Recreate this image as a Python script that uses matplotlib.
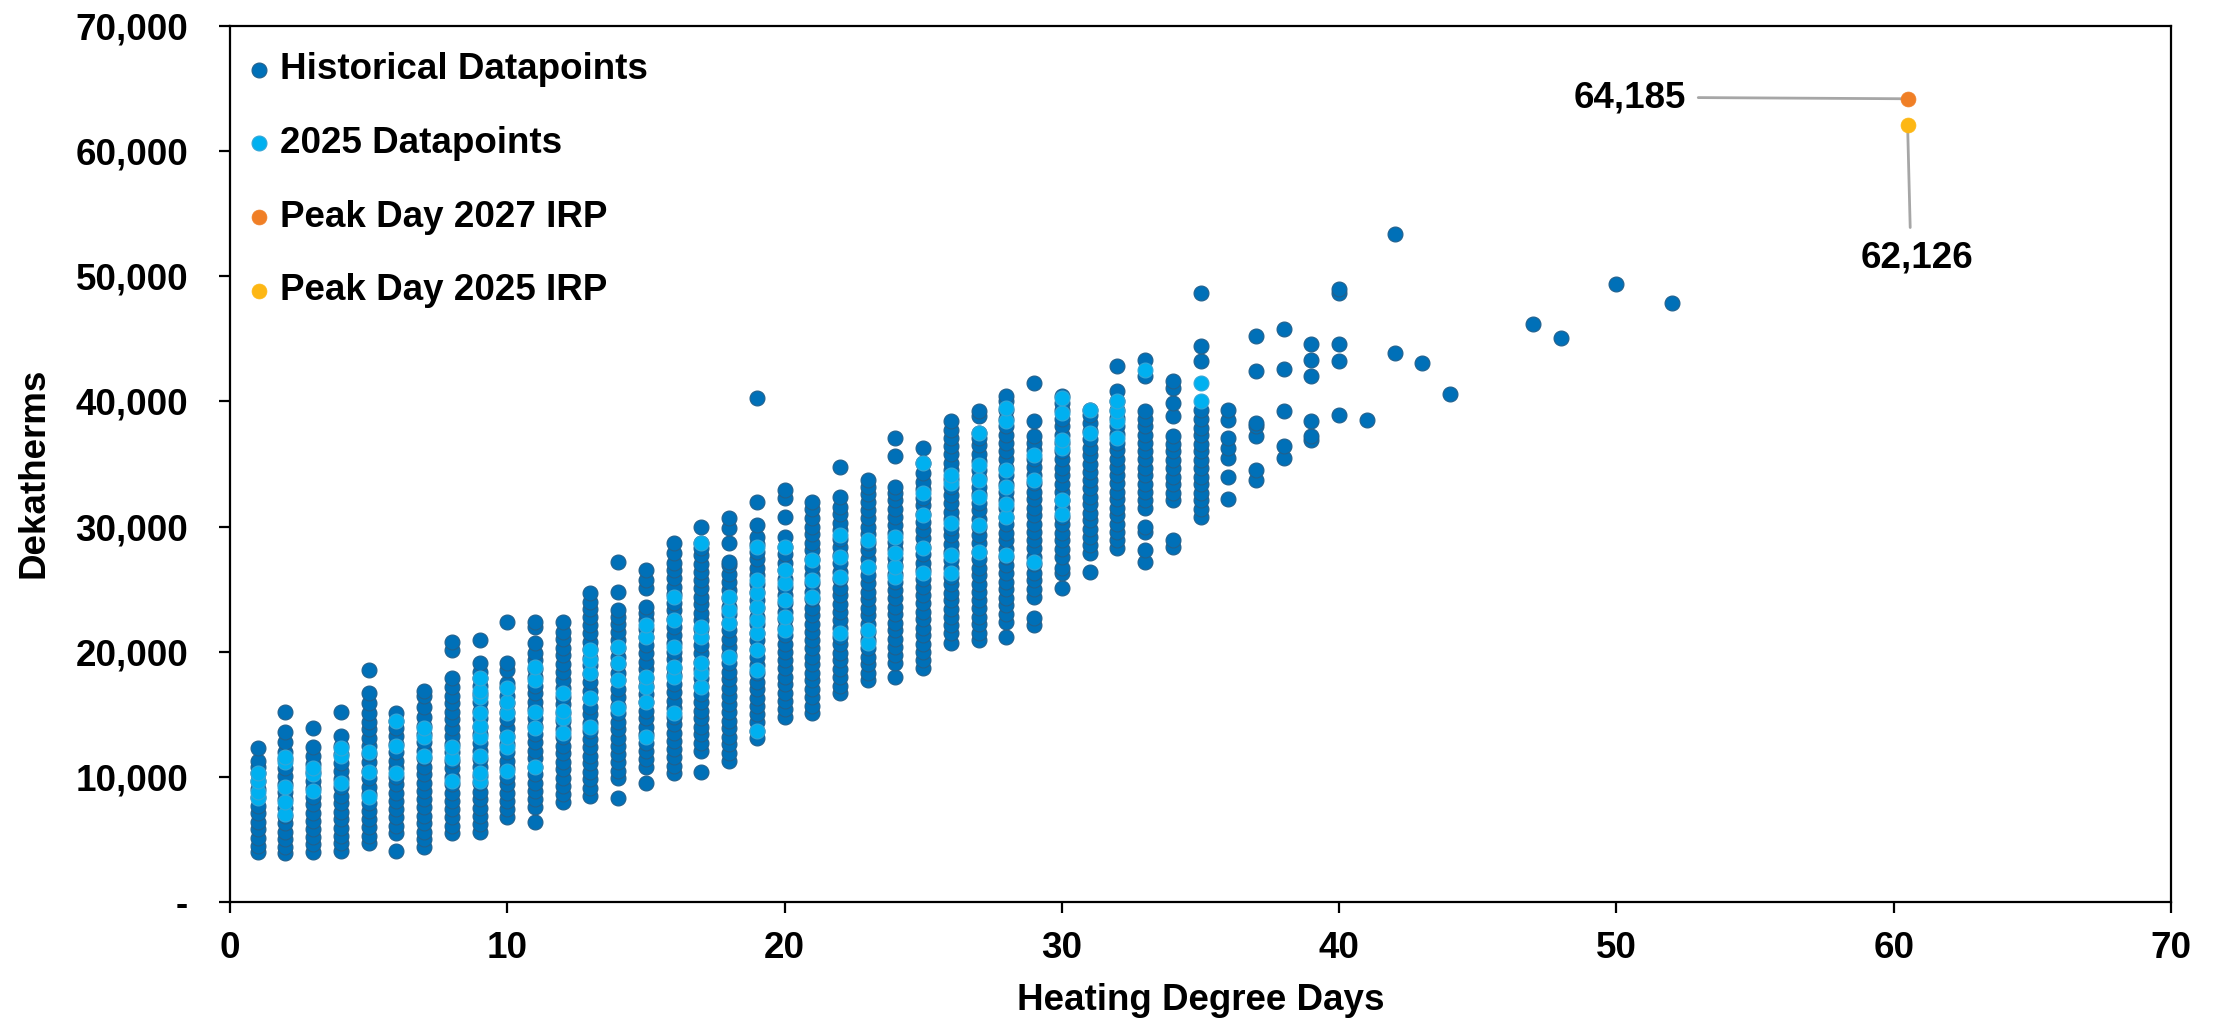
import matplotlib
matplotlib.use("Agg")
import matplotlib.pyplot as plt
from matplotlib.ticker import FuncFormatter, MultipleLocator

# ---------------- data (Dekatherms in thousands) ----------------
hist_hdd = list(range(1, 36)) + [36, 37, 38, 39, 40, 41, 42, 43, 44, 47, 48, 50, 52]
hist_kdth = [
    [4.0, 4.5, 5.1, 5.8, 6.4, 7.1, 7.7, 8.4, 9.0, 9.7, 10.3, 10.8, 11.3, 12.3],
    [3.9, 4.4, 5.0, 5.6, 6.3, 6.9, 7.5, 8.2, 8.8, 9.4, 10.1, 10.7, 11.4, 12.0, 12.8, 13.6, 15.2],
    [4.0, 4.6, 5.2, 5.8, 6.5, 7.1, 7.8, 8.4, 9.1, 9.7, 10.4, 11.0, 11.7, 12.4, 13.9],
    [4.1, 4.7, 5.3, 5.9, 6.6, 7.2, 7.9, 8.5, 9.2, 9.8, 10.5, 11.1, 11.8, 12.5, 13.3, 15.2],
    [4.7, 5.3, 6.0, 6.6, 7.3, 7.9, 8.6, 9.2, 9.9, 10.5, 11.2, 11.8, 12.5, 13.1, 13.8, 14.4, 15.1, 15.9, 16.7, 18.5],
    [4.1, 5.5, 6.1, 6.8, 7.4, 8.1, 8.7, 9.4, 10.0, 10.7, 11.3, 12.0, 12.6, 13.3, 13.9, 14.5, 15.1],
    [4.4, 5.0, 5.6, 6.3, 6.9, 7.6, 8.2, 8.9, 9.5, 10.2, 10.8, 11.5, 12.1, 12.8, 13.4, 14.1, 14.8, 15.6, 16.5, 16.9],
    [5.5, 6.1, 6.8, 7.4, 8.1, 8.7, 9.4, 10.0, 10.7, 11.3, 12.0, 12.6, 13.3, 13.9, 14.6, 15.2, 15.9, 16.5, 17.2, 17.9, 20.1, 20.8],
    [5.6, 6.2, 6.9, 7.5, 8.2, 8.8, 9.5, 10.1, 10.8, 11.4, 12.1, 12.7, 13.4, 14.0, 14.7, 15.3, 16.0, 16.6, 17.3, 17.9, 18.4, 19.1, 20.9],
    [6.8, 7.4, 8.1, 8.7, 9.4, 10.0, 10.7, 11.3, 12.0, 12.6, 13.3, 13.9, 14.6, 15.2, 15.9, 16.5, 17.2, 17.5, 18.5, 19.1, 22.4],
    [6.4, 7.6, 8.2, 8.9, 9.5, 10.2, 10.8, 11.5, 12.1, 12.8, 13.4, 14.1, 14.7, 15.4, 16.0, 16.7, 17.3, 18.0, 18.6, 19.3, 19.9, 20.7, 22.0, 22.4],
    [8.0, 8.6, 9.3, 9.9, 10.6, 11.2, 11.9, 12.5, 13.2, 13.8, 14.5, 15.1, 15.8, 16.4, 17.1, 17.7, 18.4, 19.0, 19.7, 20.3, 21.0, 21.6, 22.4],
    [8.5, 9.1, 9.8, 10.4, 11.1, 11.7, 12.4, 13.0, 13.7, 14.3, 15.0, 15.6, 16.3, 16.9, 17.6, 18.2, 18.9, 19.5, 20.2, 20.8, 21.5, 22.1, 22.8, 23.4, 24.0, 24.7],
    [8.3, 9.9, 10.5, 11.2, 11.8, 12.5, 13.1, 13.8, 14.4, 15.1, 15.7, 16.4, 17.0, 17.7, 18.3, 19.0, 19.6, 20.3, 20.9, 21.6, 22.2, 22.8, 23.3, 24.8, 27.2],
    [9.5, 10.8, 11.4, 12.1, 12.7, 13.4, 14.0, 14.7, 15.3, 16.0, 16.6, 17.3, 17.9, 18.6, 19.2, 19.9, 20.5, 21.2, 21.8, 22.5, 23.1, 23.6, 25.1, 25.7, 26.5],
    [10.3, 10.9, 11.6, 12.2, 12.9, 13.5, 14.2, 14.8, 15.5, 16.1, 16.8, 17.4, 18.1, 18.7, 19.4, 20.0, 20.7, 21.3, 22.0, 22.6, 23.3, 23.9, 24.6, 25.2, 25.9, 26.5, 27.1, 27.9, 28.7],
    [10.4, 12.1, 12.7, 13.4, 14.0, 14.7, 15.3, 16.0, 16.6, 17.3, 17.9, 18.6, 19.2, 19.9, 20.5, 21.2, 21.8, 22.5, 23.1, 23.8, 24.4, 25.1, 25.7, 26.4, 27.0, 27.7, 28.3, 28.7, 30.0],
    [11.3, 11.9, 12.6, 13.2, 13.9, 14.5, 15.2, 15.8, 16.5, 17.1, 17.8, 18.4, 19.1, 19.7, 20.4, 21.0, 21.7, 22.3, 23.0, 23.6, 24.3, 24.9, 25.6, 26.2, 26.9, 27.2, 28.7, 29.9, 30.7],
    [13.1, 13.7, 14.4, 15.0, 15.7, 16.3, 17.0, 17.6, 18.3, 18.9, 19.6, 20.2, 20.9, 21.5, 22.2, 22.8, 23.5, 24.1, 24.8, 25.4, 26.1, 26.7, 27.4, 28.0, 28.6, 29.2, 30.1, 32.0, 40.3],
    [14.8, 15.4, 16.1, 16.7, 17.4, 18.0, 18.7, 19.3, 20.0, 20.6, 21.3, 21.9, 22.6, 23.2, 23.9, 24.5, 25.2, 25.8, 26.5, 27.1, 27.8, 28.4, 29.2, 30.8, 32.3, 32.9],
    [15.1, 15.7, 16.4, 17.0, 17.7, 18.3, 19.0, 19.6, 20.3, 20.9, 21.6, 22.2, 22.9, 23.5, 24.2, 24.8, 25.5, 26.1, 26.8, 27.4, 28.1, 28.7, 29.4, 30.0, 30.7, 31.4, 32.0],
    [16.7, 17.3, 18.0, 18.6, 19.3, 19.9, 20.6, 21.2, 21.9, 22.5, 23.2, 23.8, 24.5, 25.1, 25.8, 26.4, 27.1, 27.7, 28.4, 29.0, 29.7, 30.3, 31.0, 31.6, 32.4, 34.8],
    [17.7, 18.3, 19.0, 19.6, 20.3, 20.9, 21.6, 22.2, 22.9, 23.5, 24.2, 24.8, 25.5, 26.1, 26.8, 27.4, 28.1, 28.7, 29.4, 30.0, 30.7, 31.3, 32.0, 32.6, 33.2, 33.7],
    [18.0, 19.1, 19.7, 20.4, 21.0, 21.7, 22.3, 23.0, 23.6, 24.3, 24.9, 25.6, 26.2, 26.9, 27.5, 28.2, 28.8, 29.5, 30.1, 30.8, 31.4, 32.1, 32.7, 33.2, 35.6, 37.1],
    [18.7, 19.3, 20.0, 20.6, 21.3, 21.9, 22.6, 23.2, 23.9, 24.5, 25.2, 25.8, 26.5, 27.1, 27.8, 28.4, 29.1, 29.7, 30.4, 31.0, 31.7, 32.3, 33.0, 33.6, 34.3, 35.1, 36.3],
    [20.7, 21.5, 22.1, 22.8, 23.4, 24.1, 24.7, 25.4, 26.0, 26.7, 27.3, 28.0, 28.6, 29.3, 29.9, 30.6, 31.2, 31.9, 32.5, 33.2, 33.8, 34.5, 35.1, 35.8, 36.4, 37.1, 37.7, 38.4],
    [20.9, 21.5, 22.2, 22.8, 23.5, 24.1, 24.8, 25.4, 26.1, 26.7, 27.4, 28.0, 28.7, 29.3, 30.0, 30.6, 31.3, 31.9, 32.6, 33.2, 33.9, 34.5, 35.2, 35.8, 36.5, 37.1, 37.5, 38.8, 39.2],
    [21.2, 22.4, 23.0, 23.7, 24.3, 25.0, 25.6, 26.3, 26.9, 27.6, 28.2, 28.9, 29.5, 30.2, 30.8, 31.5, 32.1, 32.8, 33.4, 34.1, 34.7, 35.4, 36.0, 36.7, 37.3, 38.0, 38.6, 39.3, 40.0, 40.4],
    [22.1, 22.7, 24.4, 25.0, 25.7, 26.3, 27.0, 27.6, 28.3, 28.9, 29.6, 30.2, 30.9, 31.5, 32.2, 32.8, 33.5, 34.1, 34.8, 35.4, 36.1, 36.7, 37.2, 38.4, 41.5],
    [25.1, 26.3, 26.7, 27.6, 28.2, 28.9, 29.5, 30.2, 30.8, 31.5, 32.1, 32.8, 33.4, 34.1, 34.7, 35.4, 36.0, 36.7, 37.3, 38.0, 38.6, 39.3, 39.9, 40.4],
    [26.4, 27.9, 28.5, 29.2, 29.8, 30.5, 31.1, 31.8, 32.4, 33.1, 33.7, 34.4, 35.0, 35.7, 36.3, 37.0, 37.6, 38.3, 38.9, 39.3],
    [28.3, 28.9, 29.6, 30.2, 30.9, 31.5, 32.2, 32.8, 33.5, 34.1, 34.8, 35.4, 36.1, 36.7, 37.4, 38.0, 38.7, 39.3, 40.0, 40.8, 42.8],
    [27.2, 28.1, 29.6, 30.0, 31.5, 32.1, 32.8, 33.4, 34.1, 34.7, 35.4, 36.0, 36.7, 37.3, 38.0, 38.6, 39.2, 42.0, 43.3],
    [28.4, 28.9, 32.1, 32.7, 33.4, 34.0, 34.7, 35.3, 36.0, 36.6, 37.2, 38.8, 39.9, 41.1, 41.6],
    [30.8, 31.4, 32.1, 32.7, 33.4, 34.0, 34.7, 35.3, 36.0, 36.6, 37.3, 37.9, 38.6, 39.3, 43.2, 44.4, 48.7],
    [32.2, 34.0, 35.5, 36.3, 37.1, 38.5, 39.3],
    [33.7, 34.5, 37.2, 38.0, 38.3, 42.4, 45.2],
    [35.5, 36.4, 39.2, 42.6, 45.8],
    [36.9, 37.2, 38.4, 42.0, 43.3, 44.6],
    [38.9, 43.2, 44.6, 48.7, 49.0],
    [38.5],
    [43.9, 53.4],
    [43.1],
    [40.6],
    [46.2],
    [45.1],
    [49.4],
    [47.9],
]

new_hdd = list(range(1, 34)) + [35]
new_kdth = [
    [8.3, 8.8, 9.7, 10.3],
    [7.0, 8.0, 9.2, 11.2, 11.6],
    [8.9, 10.2, 10.7],
    [9.5, 11.7, 12.3],
    [8.4, 10.4, 12.0],
    [10.3, 12.5, 14.5],
    [11.7, 13.2, 13.9],
    [9.7, 11.5, 12.4],
    [9.7, 10.3, 11.7, 13.2, 14.1, 15.1, 16.4, 16.9, 17.9],
    [10.5, 12.4, 13.2, 15.1, 16.0, 17.1],
    [10.8, 13.9, 15.2, 17.7, 18.8],
    [13.5, 14.7, 15.3, 16.7],
    [14.0, 16.3, 18.3, 19.3, 20.1],
    [15.5, 17.7, 19.1, 20.4],
    [13.2, 16.0, 17.2, 18.0, 21.2, 22.1],
    [15.1, 18.0, 18.8, 20.4, 22.5, 24.4],
    [17.2, 18.3, 19.1, 21.2, 22.0, 28.7],
    [19.6, 22.3, 23.3, 24.4],
    [13.7, 18.5, 20.1, 21.5, 22.5, 23.6, 24.7, 25.7, 28.4],
    [21.7, 22.8, 24.1, 25.5, 26.5, 28.4],
    [24.4, 25.7, 27.3],
    [21.5, 26.0, 27.6, 29.3],
    [20.7, 21.7, 26.8, 28.9],
    [26.0, 26.8, 27.9, 29.2],
    [26.3, 28.3, 30.9, 32.7, 35.1],
    [26.3, 27.7, 30.3, 33.5, 34.1],
    [28.0, 30.1, 32.4, 33.7, 34.9, 37.5],
    [27.7, 30.8, 31.8, 33.2, 34.5, 38.4, 39.5],
    [27.2, 33.7, 35.7],
    [31.0, 32.1, 36.3, 36.9, 39.1, 40.3],
    [37.5, 39.3],
    [37.1, 38.4, 39.2, 40.0],
    [42.5],
    [40.0, 41.5],
]

peak_hdd = 60.5
peak_2027 = 64185
peak_2025 = 62126

series_labels = ["Historical Datapoints", "2025 Datapoints",
                 "Peak Day 2027 IRP", "Peak Day 2025 IRP"]

# ---------------- build point arrays ----------------
hx, hy = [], []
for h, vals in zip(hist_hdd, hist_kdth):
    hx += [h] * len(vals)
    hy += [v * 1000 for v in vals]
nx, ny = [], []
for h, vals in zip(new_hdd, new_kdth):
    nx += [h] * len(vals)
    ny += [v * 1000 for v in vals]

# ---------------- style ----------------
plt.rcParams['font.family'] = ['Liberation Sans', 'DejaVu Sans']
plt.rcParams['font.weight'] = 'bold'
FS = 26.5

C_HIST, E_HIST = '#0070B8', '#22608C'
C_NEW, E_NEW = '#00B0F0', '#35A6D6'
C_27 = '#F07F26'
C_25 = '#FDB714'
MS = 115

fig = plt.figure(figsize=(22.19, 10.19), dpi=100)
ax = fig.add_axes([230 / 2219, 1 - 902 / 1019, 1941 / 2219, 876 / 1019])

ax.scatter(hx, hy, s=MS, c=C_HIST, edgecolors=E_HIST, linewidths=0.8,
           label=series_labels[0], zorder=2)
ax.scatter(nx, ny, s=MS, c=C_NEW, edgecolors=E_NEW, linewidths=0.8,
           label=series_labels[1], zorder=3)
ax.scatter([peak_hdd], [peak_2027], s=MS, c=C_27, edgecolors=C_27,
           linewidths=0.5, label=series_labels[2], zorder=4)
ax.scatter([peak_hdd], [peak_2025], s=MS, c=C_25, edgecolors=C_25,
           linewidths=0.5, label=series_labels[3], zorder=4)

line_kw = dict(arrowstyle='-', color='#A6A6A6', lw=2.0, shrinkA=7, shrinkB=0)
ax.annotate(f"{peak_2027:,}", xy=(peak_hdd, peak_2027), xytext=(52.5, peak_2027 + 100),
            ha='right', va='center', fontsize=FS, fontweight='bold',
            arrowprops=dict(**line_kw, relpos=(1, 0.5)), zorder=1)
ax.annotate(f"{peak_2025:,}", xy=(peak_hdd, peak_2025), xytext=(60.85, 51.5e3),
            ha='center', va='center', fontsize=FS, fontweight='bold',
            arrowprops=dict(**line_kw, relpos=(0.44, 1)), zorder=1)

ax.set_xlim(0, 70)
ax.set_ylim(0, 70000)
ax.xaxis.set_major_locator(MultipleLocator(10))
ax.yaxis.set_major_locator(MultipleLocator(10000))
ax.yaxis.set_major_formatter(FuncFormatter(lambda v, p: '-' if v == 0 else f"{v:,.0f}"))

for sp in ax.spines.values():
    sp.set_linewidth(1.6)
    sp.set_color('black')
ax.tick_params(axis='both', direction='out', length=8, width=1.6,
               labelsize=FS, color='black')
ax.tick_params(axis='y', pad=22)
ax.tick_params(axis='x', pad=13)
for lab in ax.get_xticklabels() + ax.get_yticklabels():
    lab.set_fontweight('bold')

ax.set_xlabel("Heating Degree Days", fontsize=FS, fontweight='bold', labelpad=12)
ax.set_ylabel("Dekatherms", fontsize=FS, fontweight='bold')
ax.yaxis.set_label_coords(-(230 - 52) / 1941, 0.49)

leg = ax.legend(loc='upper left', bbox_to_anchor=(0.0075, 0.970), frameon=False,
                fontsize=FS, handlelength=0.8, handletextpad=0.15,
                labelspacing=1.05, borderpad=0, borderaxespad=0,
                scatterpoints=1)
for t in leg.get_texts():
    t.set_fontweight('bold')

fig.savefig("out.png", dpi=100)
